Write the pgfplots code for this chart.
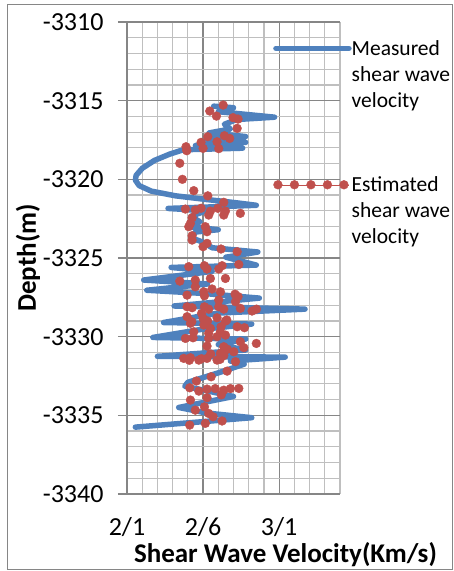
\documentclass[border=0pt]{standalone}
\usepackage{pgfplots}
\pgfplotsset{compat=1.18}
\usepackage{fontspec}
\setmainfont{Carlito}

\definecolor{velblue}{RGB}{79,129,189}
\definecolor{velred}{RGB}{192,80,77}
\definecolor{gridmajor}{RGB}{134,134,134}
\definecolor{gridminor}{RGB}{191,191,191}

% measured shear wave velocity (Km/s) against depth (m)
\pgfplotstableread{
vs      depth
2.67   -3315.35
2.80   -3315.45
2.70   -3315.70
3.07   -3316.05
2.82   -3316.20
2.74   -3316.50
2.78   -3316.80
2.64   -3317.05
2.88   -3317.28
2.62   -3317.45
2.88   -3317.65
2.55   -3317.85
2.86   -3318.02
2.47   -3318.12
2.38   -3318.40
2.28   -3318.80
2.20   -3319.30
2.16   -3319.75
2.155  -3320.05
2.18   -3320.40
2.26   -3320.75
2.42   -3321.05
2.62   -3321.28
2.80   -3321.47
2.95   -3321.65
2.37   -3321.85
2.62   -3322.00
2.52   -3322.35
2.58   -3322.70
2.50   -3323.00
2.70   -3323.20
2.55   -3323.35
2.52   -3323.70
2.60   -3324.00
2.66   -3324.35
2.96   -3324.62
2.75   -3324.95
2.95   -3325.45
2.39   -3325.60
2.66   -3325.85
2.21   -3326.40
2.63   -3326.65
2.23   -3327.05
2.60   -3327.25
2.97   -3327.55
2.41   -3328.05
3.27   -3328.25
2.70   -3328.50
2.34   -3329.10
2.92   -3329.20
2.58   -3329.55
2.27   -3330.05
2.88   -3330.15
2.70   -3330.50
2.88   -3330.85
2.30   -3331.25
3.14   -3331.30
2.78   -3331.55
2.87   -3331.75
2.70   -3332.30
2.50   -3332.90
2.48   -3333.15
2.80   -3333.80
2.44   -3334.50
2.62   -3334.85
2.92   -3335.15
2.155  -3335.75
}\measured

% estimated shear wave velocity (Km/s) against depth (m)
\pgfplotstableread{
vs      depth
2.732  -3315.28
2.644  -3315.66
2.688  -3315.98
2.797  -3316.08
2.830  -3316.17
2.824  -3316.76
2.631  -3317.29
2.740  -3317.23
2.775  -3317.40
2.692  -3317.61
2.587  -3317.65
2.488  -3317.93
2.493  -3318.18
2.600  -3318.03
2.703  -3318.05
2.447  -3318.98
2.464  -3320.00
2.539  -3320.72
2.631  -3321.05
2.736  -3321.46
2.484  -3321.89
2.549  -3321.95
2.587  -3321.84
2.648  -3322.02
2.697  -3321.84
2.747  -3322.02
2.736  -3322.27
2.845  -3322.16
2.637  -3322.27
2.528  -3322.44
2.517  -3322.80
2.506  -3323.01
2.615  -3323.01
2.626  -3323.33
2.528  -3323.58
2.528  -3323.86
2.626  -3324.07
2.600  -3324.28
2.718  -3324.43
2.824  -3324.60
2.506  -3325.55
2.609  -3325.49
2.626  -3325.70
2.725  -3325.49
2.703  -3325.70
2.835  -3325.41
2.447  -3326.47
2.549  -3326.40
2.648  -3326.30
2.747  -3326.30
2.549  -3326.83
2.605  -3327.15
2.659  -3326.97
2.714  -3327.15
2.810  -3327.30
2.495  -3327.36
2.609  -3327.40
2.703  -3327.67
2.813  -3327.78
2.830  -3327.45
2.495  -3328.10
2.528  -3328.16
2.609  -3328.10
2.637  -3328.25
2.703  -3328.10
2.736  -3328.25
2.845  -3328.20
2.922  -3328.37
2.951  -3328.25
2.590  -3328.52
2.495  -3328.73
2.600  -3328.84
2.692  -3328.80
2.747  -3329.01
2.526  -3329.05
2.630  -3329.00
2.756  -3328.94
2.517  -3329.15
2.605  -3329.26
2.648  -3329.47
2.718  -3329.37
2.824  -3329.37
2.872  -3329.43
2.539  -3329.69
2.637  -3329.79
2.714  -3329.69
2.484  -3330.11
2.534  -3330.07
2.637  -3330.11
2.692  -3330.00
2.747  -3329.90
2.845  -3330.32
2.950  -3330.43
2.626  -3330.60
2.736  -3330.64
2.760  -3330.80
2.868  -3330.70
2.473  -3331.38
2.517  -3331.34
2.572  -3331.49
2.626  -3331.38
2.692  -3331.49
2.736  -3331.20
2.714  -3331.06
2.802  -3330.96
2.650  -3331.10
2.813  -3331.59
2.510  -3331.50
2.590  -3331.40
2.712  -3331.44
2.758  -3332.19
2.653  -3332.55
2.556  -3332.82
2.512  -3333.25
2.572  -3333.46
2.626  -3333.33
2.680  -3333.30
2.736  -3333.40
2.780  -3333.30
2.835  -3333.29
2.517  -3334.03
2.626  -3333.88
2.720  -3333.70
2.549  -3334.67
2.609  -3334.46
2.637  -3334.88
2.666  -3335.09
2.725  -3335.36
2.512  -3335.62
2.615  -3335.51
}\estimated

\begin{document}
\begin{tikzpicture}[x=1pt,y=1pt]
\useasboundingbox (0,0) rectangle (454,571);
\draw[gridmajor, line width=1pt] (7,1) rectangle (452.5,566);
\begin{axis}[
  at={(127pt,77pt)}, anchor=south west,
  scale only axis, width=213pt, height=472pt,
  xmin=2.1, xmax=3.5, ymin=-3340, ymax=-3310,
  axis x line*=bottom, axis y line*=left,
  axis line style={gridmajor, line width=1.2pt, -},
  xtick={2.1,2.6,3.1}, xticklabels={2/1,2/6,3/1},
  minor xtick={2.2,2.3,2.4,2.5,2.7,2.8,2.9,3.0,3.2,3.3,3.4,3.5},
  ytick={-3340,-3335,-3330,-3325,-3320,-3315,-3310},
  yticklabels={-3340,-3335,-3330,-3325,-3320,-3315,-3310},
  minor y tick num=4,
  grid=both,
  major grid style={gridmajor, line width=1.2pt},
  minor grid style={gridminor, line width=1.2pt},
  tick align=outside,
  major tick length=9pt, minor tick length=0pt,
  xtick style={draw=none},
  ytick style={gridmajor, line width=1.2pt},
  tick label style={font=\fontsize{26}{30}\selectfont},
  yticklabel style={anchor=east, xshift=-11pt},
  xticklabel style={yshift=-11pt, text depth=2pt},
  xlabel={Shear Wave Velocity(Km/s)},
  ylabel={Depth(m)},
  xlabel style={font=\bfseries\fontsize{27}{32}\selectfont, at={(axis description cs:0.744,-0.1285)}, anchor=center},
  ylabel style={font=\bfseries\fontsize{27}{32}\selectfont, at={(axis description cs:-0.465,0.5)}, anchor=center},
  legend cell align=left,
  legend style={at={(axis description cs:0.6854,0.962)}, anchor=north west,
    draw=none, fill=none, inner sep=0pt, row sep=68pt, column sep=0pt,
    font=\fontsize{21.5}{26}\selectfont,
    nodes={align=left, inner sep=0pt}},
]
\addplot[velblue, line width=5.5pt, line join=round, line cap=round, no marks,
  legend image code/.code={
    \path (0pt,26pt) -- (73pt,26pt);
    \draw[velblue, line width=5.5pt, line cap=round] (2.75pt,26pt) -- (67.25pt,26pt);
  }] table[x=vs, y=depth] {\measured};
\addlegendentry{Measured\\shear wave\\velocity}
\addplot[only marks, mark=*, mark size=4.4pt, color=velred,
  mark options={fill=velred, draw=velred},
  legend image code/.code={
    \path (0pt,26pt) -- (73pt,26pt);
    \foreach \xx in {2,18.5,35,51.5,68} {\fill[velred] (\xx pt,26pt) circle (4.4pt);}
  }] table[x=vs, y=depth] {\estimated};
\addlegendentry{Estimated\\shear wave\\velocity}
\end{axis}
\end{tikzpicture}
\end{document}
